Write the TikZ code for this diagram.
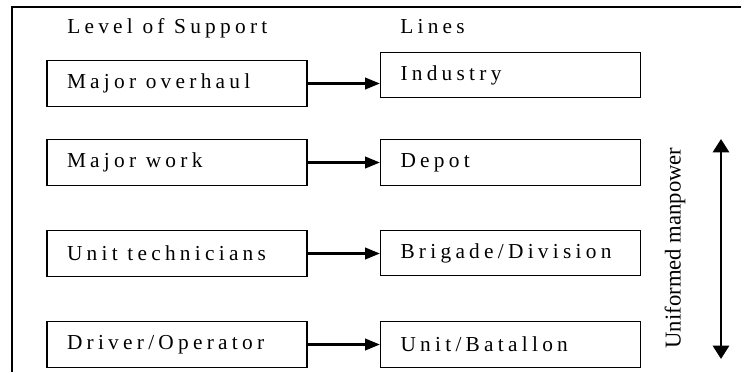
\documentclass[tikz,border=0pt]{standalone}
\usepackage{fontspec}
\setmainfont{Liberation Serif}
\newfontfamily\spacedfont{Liberation Serif}[LetterSpace=20]
\usetikzlibrary{positioning, arrows.meta}

\begin{document}
\begin{tikzpicture}[x=0.75pt, y=-0.75pt,
    levelbox/.style={draw, line width=0.9pt, minimum height=34pt, inner xsep=15pt,
        font={\spacedfont\fontsize{16pt}{19pt}\selectfont}},
    header/.style={anchor=base west, inner sep=0pt, font={\spacedfont\fontsize{16pt}{19pt}\selectfont}},
    linkarrow/.style={line width=1.8pt, -{Triangle[length=11pt, width=8.5pt]}}]
    \useasboundingbox (0,0) rectangle (741,372);

    % Frame along the top and left side
    \coordinate (frameR) at (741,7);
    \coordinate (frameTL) at (12,7);
    \coordinate (frameB) at (12,372);
    \draw[line width=1.5pt] (frameR) -- (frameTL) -- (frameB);

    % Column headers
    \node[header] (supportHead) at (67,33) {Level of Support};
    \node[header] (linesHead) at (400,33) {Lines};

    % Levels of support (left column)
    \node[levelbox] (lvl1) at (177,83.5) {\makebox[165pt][l]{Major overhaul}};
    \node[levelbox] (lvl2) at (177,162.5) {\makebox[165pt][l]{Major work}};
    \node[levelbox] (lvl3) at (177,253.5) {\makebox[165pt][l]{Unit technicians}};
    \node[levelbox] (lvl4) at (177,344.5) {\makebox[165pt][l]{Driver/Operator}};

    % Lines (right column)
    \node[levelbox] (line1) at (510.5,75) {\makebox[165pt][l]{Industry}};
    \node[levelbox] (line2) at (510.5,162.5) {\makebox[165pt][l]{Depot}};
    \node[levelbox] (line3) at (510.5,253) {\makebox[165pt][l]{Brigade/Division}};
    \node[levelbox] (line4) at (510.5,344.5) {\makebox[165pt][l]{Unit/Batallon}};

    % Arrows from each level to its line
    \draw[linkarrow] (lvl1.east) -- (lvl1.east -| line1.west);
    \draw[linkarrow] (lvl2.east) -- (lvl2.east -| line2.west);
    \draw[linkarrow] (lvl3.east) -- (lvl3.east -| line3.west);
    \draw[linkarrow] (lvl4.east) -- (lvl4.east -| line4.west);

    % Uniformed manpower range
    \node[rotate=90, font={\fontsize{17pt}{20pt}\selectfont}] (manpower) at (675,248) {Uniformed manpower};
    \coordinate (mpTop) at (721,139);
    \coordinate (mpBot) at (721,359);
    \draw[line width=2.2pt, {Triangle[length=10pt, width=12pt]}-{Triangle[length=10pt, width=12pt]}] (mpTop) -- (mpBot);
\end{tikzpicture}
\end{document}
